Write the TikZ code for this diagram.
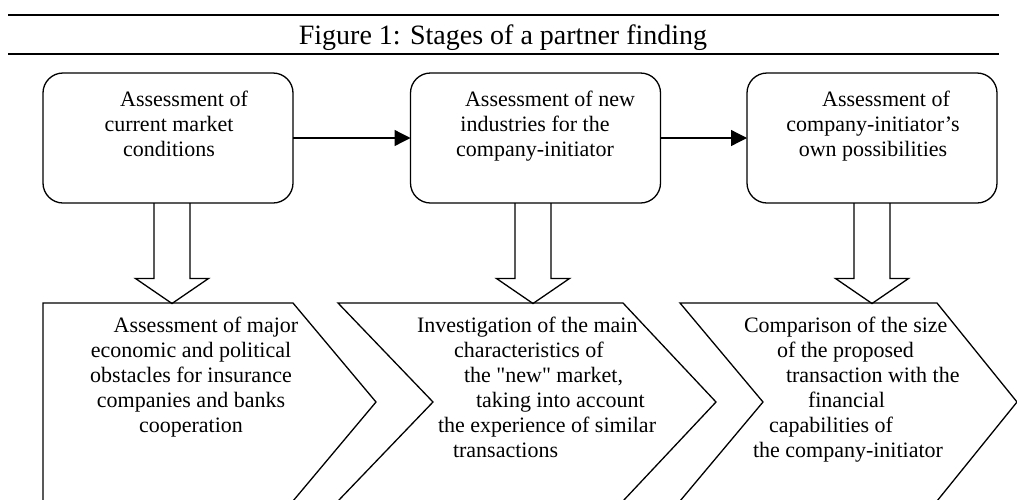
\documentclass[tikz,border=0pt]{standalone}
\usepackage{fontspec}
\setmainfont{Liberation Serif}[Ligatures=TeXOff]
\usetikzlibrary{arrows.meta,calc}

% hollow block arrow hanging below node #1, its axis shifted by #2
\newcommand{\hollowdown}[2]{%
  \draw[outline] ($(#1.south)+({#2-18},0)$) -- ++(0,75.5) -- ++(-18.5,0)
    -- ++(36.5,25) -- ++(36.5,-25) -- ++(-18.5,0) -- ++(0,-75.5);%
}

\begin{document}
\begin{tikzpicture}[x=1pt,y=-1pt,
  every node/.style={inner sep=0pt, outer sep=0pt},
  outline/.style={line width=1.3pt, line join=miter},
  rule/.style={line width=2.5pt},
  stagebox/.style={draw, line width=1.3pt, rounded corners=20pt,
    minimum width=250pt, minimum height=130pt},
  body/.style={font=\fontsize{22}{25}\selectfont},
  link/.style={line width=1.3pt, -{Triangle[length=16pt,width=16pt]}},
]
\useasboundingbox (0,0) rectangle (1017,499);

% caption between two rules
\coordinate (ruleAl) at (8,15);   \coordinate (ruleAr) at (999,15);
\coordinate (ruleBl) at (8,54);   \coordinate (ruleBr) at (999,54);
\draw[rule] (ruleAl) -- (ruleAr);
\draw[rule] (ruleBl) -- (ruleBr);
\node[anchor=base, font=\fontsize{28}{30}\selectfont] (title) at (503,44)
  {Figure 1: Stages of a partner finding};

% upper row: three assessment stages
\node[stagebox] (b1) at (168,138) {};
\node[stagebox] (b2) at (535.5,138) {};
\node[stagebox] (b3) at (872,138) {};

% (base anchor of a multi-line node = baseline of its last line)
\node[body, anchor=base, align=center] (t1) at (169,156)
  {\hspace*{30pt}Assessment of\\current market\\conditions};
\node[body, anchor=base, align=center] (t2) at (535,156)
  {\hspace*{30pt}Assessment of new\\industries for the\\company-initiator};
\node[body, anchor=base, align=center] (t3) at (873,156)
  {\hspace*{26pt}Assessment of\\company-initiator’s\\own possibilities};

\draw[link] (b1) -- (b2);
\draw[link] (b2) -- (b3);

% lower row: chevron shapes
\draw[outline] (43,303) -- (293,303) -- (376,402) -- (293,501) -- (43,501) -- cycle;
\draw[outline] (338,303) -- (623,303) -- (716,402) -- (623,501) -- (338,501) -- (433,402) -- cycle;
\draw[outline] (680,303) -- (937,303) -- (1017,402) -- (937,501) -- (680,501) -- (763,402) -- cycle;

\node[body, anchor=base, align=center] (s1) at (191,432)
  {\hspace*{30pt}Assessment of major\\economic and political\\obstacles for insurance\\companies and banks\\cooperation};
\node[body, anchor=base west, align=left] (s2) at (417,457)
  {Investigation of the main\\
   \hspace*{37pt}characteristics of\\
   \hspace*{47pt}the "new" market,\\
   \hspace*{59pt}taking into account\\
   \hspace*{21pt}the experience of similar\\
   \hspace*{36pt}transactions};
\node[body, anchor=base west, align=left] (s3) at (744,457)
  {Comparison of the size\\
   \hspace*{33pt}of the proposed\\
   \hspace*{42pt}transaction with the\\
   \hspace*{64pt}financial\\
   \hspace*{25pt}capabilities of\\
   \hspace*{9pt}the company-initiator};

% hollow arrows from each stage down to its chevron
\hollowdown{b1}{4}
\hollowdown{b2}{-2.5}
\hollowdown{b3}{0}
\end{tikzpicture}
\end{document}
